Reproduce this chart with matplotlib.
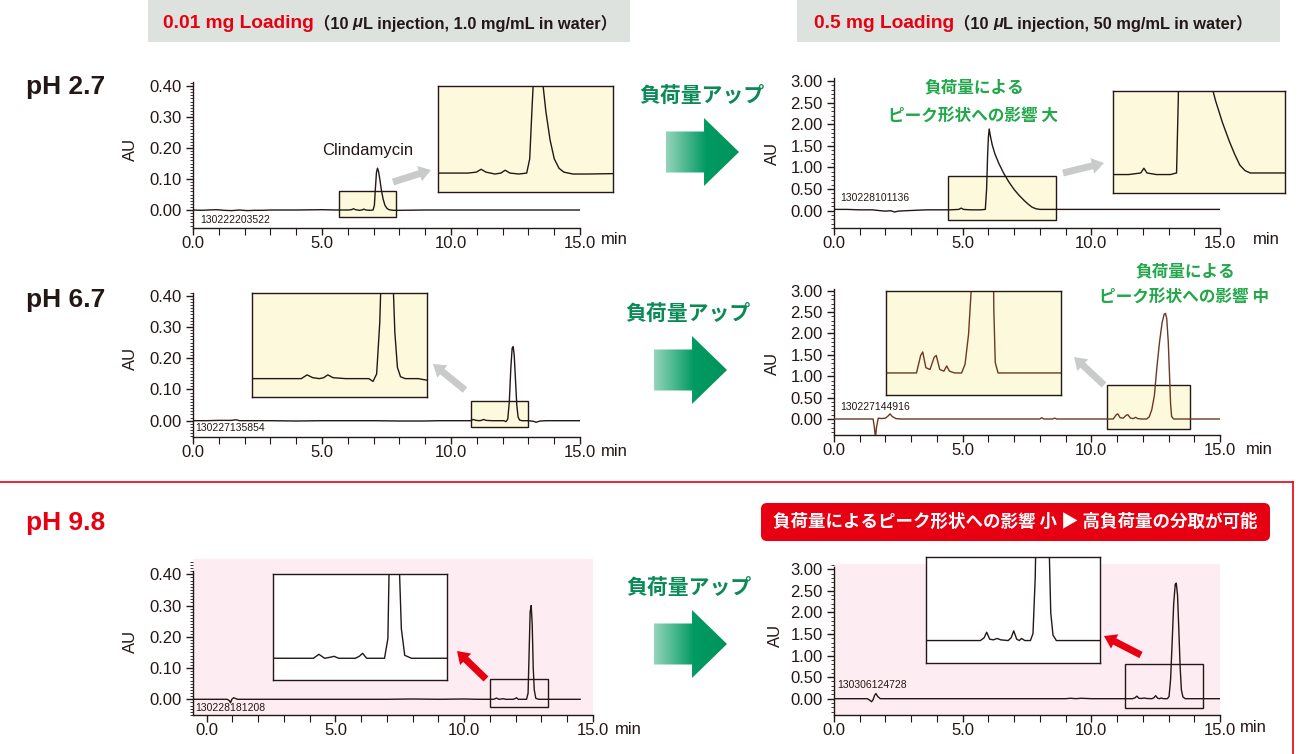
import numpy as np
import matplotlib
matplotlib.use("Agg")
import matplotlib.pyplot as plt
from matplotlib.patches import Rectangle, Polygon, FancyArrow, FancyBboxPatch
from matplotlib.colors import LinearSegmentedColormap
from matplotlib.ticker import MultipleLocator, FormatStrFormatter

W, H = 1303, 754
INK = "#231815"
RED = "#e60012"
GREEN_DARK = "#0b8a57"
GREEN_TXT = "#22a84a"
YELLOW = "#fdf9dc"
PINK = "#fdecf2"
GRAY_BOX = "#dde2df"
GRAY_ARROW = "#c9cbca"
JP = ["Noto Sans CJK JP", "DejaVu Sans"]

plt.rcParams["font.family"] = ["Liberation Sans", "Noto Sans CJK JP", "DejaVu Sans"]

# ---- chromatogram traces (time in min, absorbance in AU) ----
# pH 2.7, 0.01 mg
t_a = [0.0, 0.3, 0.6, 0.9, 1.2, 1.5, 1.8, 2.1, 2.4, 2.7,
       3.0, 4.0, 5.0, 5.5, 6.0, 6.14, 6.22, 6.3, 6.45, 6.55,
       6.62, 6.7, 6.85, 6.98, 7.03, 7.07, 7.11, 7.15, 7.19, 7.24,
       7.3, 7.37, 7.44, 7.52, 7.6, 7.75, 8.0, 9.0, 10.0, 12.0, 15.0]
au_a = [0.0, -0.001, 0.0, 0.001, -0.001, -0.002, 0.0, -0.002, -0.001, -0.001,
        0.0, 0.0, 0.001, 0.0, 0.0, 0.001, 0.004, 0.001, -0.001, 0.0,
        0.003, 0.0, -0.001, 0.0, 0.015, 0.07, 0.12, 0.135, 0.125, 0.1,
        0.065, 0.035, 0.015, 0.005, 0.001, -0.001, -0.001, 0.0, 0.0, 0.0, 0.0]

# pH 2.7, 0.5 mg
t_b = [0.0, 0.5, 1.0, 1.5, 1.8, 2.0, 2.2, 2.35, 2.5, 2.8,
       3.2, 3.6, 4.0, 4.5, 4.85, 4.94, 5.03, 5.3, 5.7, 5.88,
       5.93, 5.97, 6.0, 6.03, 6.08, 6.15, 6.25, 6.4, 6.6, 6.8,
       7.0, 7.2, 7.4, 7.55, 7.7, 7.85, 8.0, 9.0, 10.0, 12.0, 15.0]
au_b = [0.03, 0.03, 0.02, 0.02, 0.0, -0.01, 0.0, -0.03, -0.01, 0.0,
        0.01, 0.02, 0.02, 0.02, 0.03, 0.06, 0.03, 0.02, 0.02, 0.03,
        0.5, 1.3, 1.7, 1.89, 1.72, 1.52, 1.32, 1.10, 0.86, 0.66,
        0.49, 0.35, 0.23, 0.15, 0.08, 0.045, 0.03, 0.03, 0.03, 0.03, 0.03]

# pH 6.7, 0.01 mg
t_c = [0.0, 0.5, 1.0, 1.5, 1.65, 1.72, 1.8, 2.2, 3.0, 4.0,
       5.0, 6.0, 7.0, 8.0, 9.0, 9.5, 10.0, 10.5, 10.75, 10.86,
       10.97, 11.1, 11.18, 11.26, 11.36, 11.6, 11.9, 12.05, 12.13, 12.2,
       12.26, 12.32, 12.37, 12.41, 12.45, 12.5, 12.55, 12.6, 12.66, 12.75,
       13.0, 13.2, 13.3, 13.45, 13.7, 14.0, 14.5, 15.0]
au_c = [0.0, 0.0, 0.001, 0.001, 0.003, 0.002, 0.0, 0.0, 0.0, -0.001,
        0.0, 0.0, 0.0, -0.001, -0.001, 0.0, 0.0, 0.0, 0.0, 0.004,
        0.001, 0.0, 0.001, 0.004, 0.001, 0.0, 0.0, 0.0, -0.003, 0.005,
        0.06, 0.17, 0.232, 0.237, 0.21, 0.13, 0.05, 0.012, 0.002, 0.0,
        0.0, -0.002, -0.005, -0.001, 0.0, 0.0, 0.0, 0.0]

# pH 6.7, 0.5 mg
t_d = [0.0, 0.5, 1.0, 1.4, 1.52, 1.57, 1.61, 1.65, 1.72, 1.85,
       2.0, 2.1, 2.18, 2.26, 2.4, 2.6, 3.0, 4.0, 5.0, 6.0,
       7.0, 8.0, 8.07, 8.15, 8.5, 8.58, 8.66, 9.0, 10.0, 10.5,
       10.85, 10.97, 11.03, 11.12, 11.24, 11.36, 11.42, 11.52, 11.64, 11.72,
       11.8, 11.95, 12.15, 12.25, 12.35, 12.45, 12.55, 12.65, 12.75, 12.83,
       12.88, 12.93, 12.99, 13.04, 13.08, 13.12, 13.2, 13.5, 14.0, 15.0]
au_d = [0.0, 0.0, 0.0, 0.0, 0.0, -0.2, -0.45, -0.2, 0.02, 0.01,
        0.02, 0.07, 0.12, 0.06, 0.01, 0.0, 0.0, 0.0, 0.0, 0.0,
        0.0, 0.0, 0.03, 0.0, 0.0, 0.02, 0.0, 0.0, 0.0, 0.0,
        0.0, 0.10, 0.12, 0.03, 0.02, 0.09, 0.10, 0.02, 0.01, 0.04,
        0.01, 0.0, 0.0, 0.05, 0.22, 0.55, 1.22, 1.80, 2.25, 2.45,
        2.47, 2.35, 1.80, 1.00, 0.35, 0.06, 0.0, 0.0, 0.0, 0.0]

# pH 9.8, 0.01 mg
t_e = [-0.5, 0.0, 0.5, 0.8, 0.88, 0.93, 0.98, 1.05, 1.2, 2.0,
       3.0, 4.0, 5.0, 6.0, 7.0, 8.0, 9.0, 10.0, 10.5, 11.0,
       11.15, 11.25, 11.35, 11.45, 11.52, 11.6, 11.9, 11.97, 12.03, 12.1,
       12.3, 12.42, 12.48, 12.52, 12.56, 12.6, 12.64, 12.68, 12.72, 12.78,
       12.9, 13.2, 13.6, 14.0, 14.5]
au_e = [0.0, 0.0, 0.0, 0.0, -0.004, -0.011, 0.0, 0.005, 0.0, 0.0,
        0.0, 0.0, 0.0, 0.0, 0.0, 0.001, 0.0, 0.001, 0.0, 0.0,
        0.0, 0.004, 0.0, 0.001, 0.002, 0.0, 0.0, 0.002, 0.005, 0.0,
        0.0, 0.0, 0.02, 0.15, 0.28, 0.30, 0.24, 0.10, 0.03, 0.003,
        0.0, 0.0, 0.0, 0.0, 0.0]

# pH 9.8, 0.5 mg
t_f = [0.0, 0.5, 1.0, 1.3, 1.4, 1.46, 1.52, 1.58, 1.63, 1.7,
       1.8, 2.0, 3.0, 4.0, 5.0, 6.0, 7.0, 8.0, 9.0, 9.2,
       9.4, 9.6, 10.0, 11.0, 11.6, 11.7, 11.77, 11.85, 11.95, 12.05,
       12.15, 12.35, 12.43, 12.5, 12.58, 12.65, 12.71, 12.8, 12.95, 13.02,
       13.08, 13.14, 13.2, 13.26, 13.3, 13.35, 13.4, 13.45, 13.5, 13.56,
       13.65, 14.0, 15.0]
au_f = [0.0, 0.0, 0.0, 0.0, -0.04, -0.07, -0.02, 0.08, 0.12, 0.05,
        0.0, 0.0, 0.0, 0.0, 0.0, 0.0, 0.0, 0.0, 0.0, 0.01,
        0.0, 0.01, 0.0, 0.0, 0.0, 0.02, 0.06, 0.01, 0.005, 0.015,
        0.005, 0.0, 0.02, 0.07, 0.01, 0.0, 0.015, 0.0, 0.0, 0.05,
        0.45, 1.3, 2.2, 2.65, 2.68, 2.4, 1.6, 0.75, 0.2, 0.04,
        0.0, 0.0, 0.0]

sample_ids = ["130222203522", "130228101136", "130227135854",
              "130227144916", "130228181208", "130306124728"]
ph_labels = ["pH 2.7", "pH 6.7", "pH 9.8"]
x_ticks = [0, 5, 10, 15]

fig = plt.figure(figsize=(W / 100, H / 100), dpi=100)


def lin(ref, v):
    (a, pa), (b, pb) = ref
    return pa + (v - a) * (pb - pa) / (b - a)


def px_rect(x0, y0, x1, y1):
    return [x0 / W, 1 - y1 / H, (x1 - x0) / W, (y1 - y0) / H]


def panel(t, au, xref, yref, xlim, ylim, ytop, ystep, face, box, box_face, color=INK):
    x0, x1 = lin(xref, xlim[0]), lin(xref, xlim[1])
    yb, yt = lin(yref, ylim[0]), lin(yref, ylim[1])
    ax = fig.add_axes(px_rect(x0, yt, x1, yb))
    ax.set_facecolor(face)
    ax.plot(t, au, color=color, lw=1.0, zorder=3, solid_joinstyle="round")
    ax.add_patch(Rectangle((box[0], box[2]), box[1] - box[0], box[3] - box[2],
                           fc=box_face, ec=INK, lw=1.0, zorder=2))
    ax.set_xlim(*xlim)
    ax.set_ylim(*ylim)
    for s in ("top", "right"):
        ax.spines[s].set_visible(False)
    for s in ("left", "bottom"):
        ax.spines[s].set_color(INK)
        ax.spines[s].set_linewidth(1.0)
    ax.spines["left"].set_bounds(ylim[0], ytop)
    ax.set_xticks(x_ticks)
    ax.xaxis.set_minor_locator(MultipleLocator(1))
    ax.xaxis.set_major_formatter(FormatStrFormatter("%.1f"))
    ax.yaxis.set_major_locator(MultipleLocator(ystep))
    ax.yaxis.set_minor_locator(MultipleLocator(ystep / 10 if ystep < 0.2 else ystep / 5))
    ax.yaxis.set_major_formatter(FormatStrFormatter("%.2f"))
    ax.tick_params(which="both", direction="out", color=INK, labelcolor=INK, labelsize=12)
    ax.tick_params(axis="x", which="major", length=5, width=1.0, pad=1)
    ax.tick_params(axis="x", which="minor", length=5, width=0.8)
    ax.tick_params(axis="y", which="major", length=5, width=1.0, pad=3)
    ax.tick_params(axis="y", which="minor", length=2.5, width=0.6)
    return ax


def inset(t, au, rect, xlim, ylim, face, color=INK):
    ax = fig.add_axes(px_rect(*rect))
    ax.set_facecolor(face)
    ax.plot(t, au, color=color, lw=1.0, solid_joinstyle="round")
    ax.set_xlim(*xlim)
    ax.set_ylim(*ylim)
    ax.set_xticks([])
    ax.set_yticks([])
    for s in ax.spines.values():
        s.set_color(INK)
        s.set_linewidth(1.0)
    return ax


# ---- main panels ----
panel(t_a, au_a, ((0, 193), (15, 580)), ((0, 210), (0.4, 86)), (0, 15), (-0.058, 0.413), 0.413, 0.1,
      "none", (5.66, 7.87, -0.023, 0.062), YELLOW)
panel(t_b, au_b, ((0, 834), (15, 1220)), ((0, 210.7), (3, 81)), (0, 15), (-0.4, 3.08), 3.08, 0.5,
      "none", (4.42, 8.63, -0.21, 0.81), YELLOW)
panel(t_c, au_c, ((0, 193), (15, 580)), ((0, 420.7), (0.4, 295.7)), (0, 15), (-0.051, 0.41), 0.41, 0.1,
      "none", (10.78, 12.98, -0.021, 0.064), YELLOW)
panel(t_d, au_d, ((0, 834), (15, 1220)), ((0, 419), (3, 290.7)), (0, 15), (-0.37, 3.05), 3.05, 0.5,
      "none", (10.61, 13.84, -0.24, 0.79), YELLOW, color="#6b3a22")
panel(t_e, au_e, ((0, 206.6), (15, 593)), ((0, 699.3), (0.4, 574.3)), (-0.53, 15), (-0.05, 0.449), 0.41, 0.1,
      PINK, (11.02, 13.24, -0.024, 0.064), "none")
panel(t_f, au_f, ((0, 834), (15, 1220)), ((0, 698.7), (3, 569.3)), (0, 15), (-0.378, 3.12), 3.06, 0.5,
      PINK, (11.3, 14.32, -0.22, 0.80), "none")

# ---- zoomed insets ----
inset(t_a, au_a, (438, 86, 613, 192), (5.5, 8.42), (-0.02, 0.092), YELLOW)
inset(t_b, au_b, (1112.6, 91, 1285, 193), (4.04, 9.0), (-0.097, 0.55), YELLOW)
inset(t_c, au_c, (252, 292.7, 426.5, 397.3), (9.8, 13.16), (-0.02, 0.092), YELLOW)
inset(t_d, au_d, (885.6, 290.7, 1060.5, 395), (9.96, 15.0), (-0.126, 0.47), YELLOW, color="#6b3a22")
inset(t_e, au_e, (273, 574.3, 447.3, 680), (10.43, 13.54), (-0.022, 0.085), "white")
inset(t_f, au_f, (925.6, 557.3, 1100, 663.3), (10.12, 14.83), (-0.164, 0.6), "white")

# ---- overlay for annotations (pixel coordinates) ----
top = fig.add_axes([0, 0, 1, 1], zorder=10)
top.axis("off")
top.set_xlim(0, W)
top.set_ylim(H, 0)

# header boxes
top.add_patch(Rectangle((148, 0), 482, 42, fc=GRAY_BOX, ec="none"))
top.add_patch(Rectangle((797, 0), 483, 42, fc=GRAY_BOX, ec="none"))

renderer = fig.canvas.get_renderer()


def text_run(x, y, parts):
    for s, kw in parts:
        t = top.text(x, y, s, ha="left", va="center", **kw)
        x = x + t.get_window_extent(renderer).width


sub = dict(fontsize=11.8, fontweight="bold", color=INK)
head = dict(fontsize=13.8, fontweight="bold", color=RED)
text_run(163, 23, [("0.01 mg Loading", head),
                   ("（10 ", sub), ("μ", dict(sub, fontstyle="italic")),
                   ("L injection, 1.0 mg/mL in water）", sub)])
text_run(814, 23, [("0.5 mg Loading", head),
                   ("（10 ", sub), ("μ", dict(sub, fontstyle="italic")),
                   ("L injection, 50 mg/mL in water）", sub)])

# pH row labels
for lab, y, c in zip(ph_labels, [87, 300, 523], [INK, INK, RED]):
    top.text(26, y, lab, fontsize=19, fontweight="bold", color=c, ha="left", va="center")

# axis unit labels and sample ids
for x, y in [(130.7, 149), (772.6, 153), (130.7, 358), (772.6, 363), (130.7, 641.7), (775, 635)]:
    top.text(x, y, "AU", fontsize=12, color=INK, rotation=90, ha="center", va="center")
for x, y in [(614, 240), (1266, 240), (614, 451), (1259, 450), (628, 729), (1253, 727)]:
    top.text(x, y, "min", fontsize=12, color=INK, ha="center", va="center")
for sid, (x, y) in zip(sample_ids, [(200, 220), (840, 198), (195, 428), (840, 407), (195, 708), (837, 685)]):
    top.text(x, y, sid, fontsize=7.5, color=INK, ha="left", va="center")

top.text(368, 150, "Clindamycin", fontsize=12, color=INK, ha="center", va="center")

# green comments
for x, y, s in [(974, 87, "負荷量による"), (973, 117, "ピーク形状への影響 大"),
                (1185, 271, "負荷量による"), (1184, 298, "ピーク形状への影響 中")]:
    top.text(x, y, s, family=JP, fontsize=12, fontweight="bold", color=GREEN_TXT, ha="center", va="center")

# load-up arrows
gcmap = LinearSegmentedColormap.from_list("g", [(0, "#95d5bb"), (0.55, "#009a62"), (1, "#00935c")])
grad = np.linspace(0, 1, 256).reshape(1, -1)
for (tx, ty), (x0, xs, xt, cy) in zip([(702, 95), (688, 313), (689, 587)],
                                       [(666, 704, 739, 152), (654, 692, 727, 370), (654, 692, 727, 644)]):
    top.text(tx, ty, "負荷量アップ", family=JP, fontsize=15, fontweight="bold", color=GREEN_DARK,
             ha="center", va="center")
    sh, hh = 41, 68
    pts = [(x0, cy - sh / 2), (xs, cy - sh / 2), (xs, cy - hh / 2), (xt, cy),
           (xs, cy + hh / 2), (xs, cy + sh / 2), (x0, cy + sh / 2)]
    poly = Polygon(pts, closed=True, fc="none", ec="none")
    top.add_patch(poly)
    im = top.imshow(grad, extent=(x0, xt, cy + hh / 2, cy - hh / 2), cmap=gcmap,
                    aspect="auto", interpolation="bilinear")
    im.set_clip_path(poly)
top.set_xlim(0, W)
top.set_ylim(H, 0)

# zoom pointer arrows
for (xa, ya, xb, yb), c in [((393, 182, 431, 170), GRAY_ARROW), ((1063, 173, 1104, 163), GRAY_ARROW),
                            ((465, 390, 433, 364), GRAY_ARROW), ((1104, 385, 1074, 357), GRAY_ARROW),
                            ((486, 679, 457, 651), RED), ((1141, 655, 1104, 636), RED)]:
    top.add_patch(FancyArrow(xa, ya, xb - xa, yb - ya, width=7, head_width=16, head_length=12,
                             length_includes_head=True, fc=c, ec="none"))

# pH 9.8 frame and banner
top.plot([0, 1293], [482, 482], color=RED, lw=1.2)
top.plot([1293, 1293], [482, H], color=RED, lw=1.2)
top.add_patch(FancyBboxPatch((761, 503), 509, 38, boxstyle="round,pad=0,rounding_size=6",
                             fc=RED, ec="none"))
top.text(1015, 522, "負荷量によるピーク形状への影響 小 ▶ 高負荷量の分取が可能", family=JP,
         fontsize=12.6, fontweight="bold", color="white", ha="center", va="center")

fig.savefig("out.png", dpi=100)
